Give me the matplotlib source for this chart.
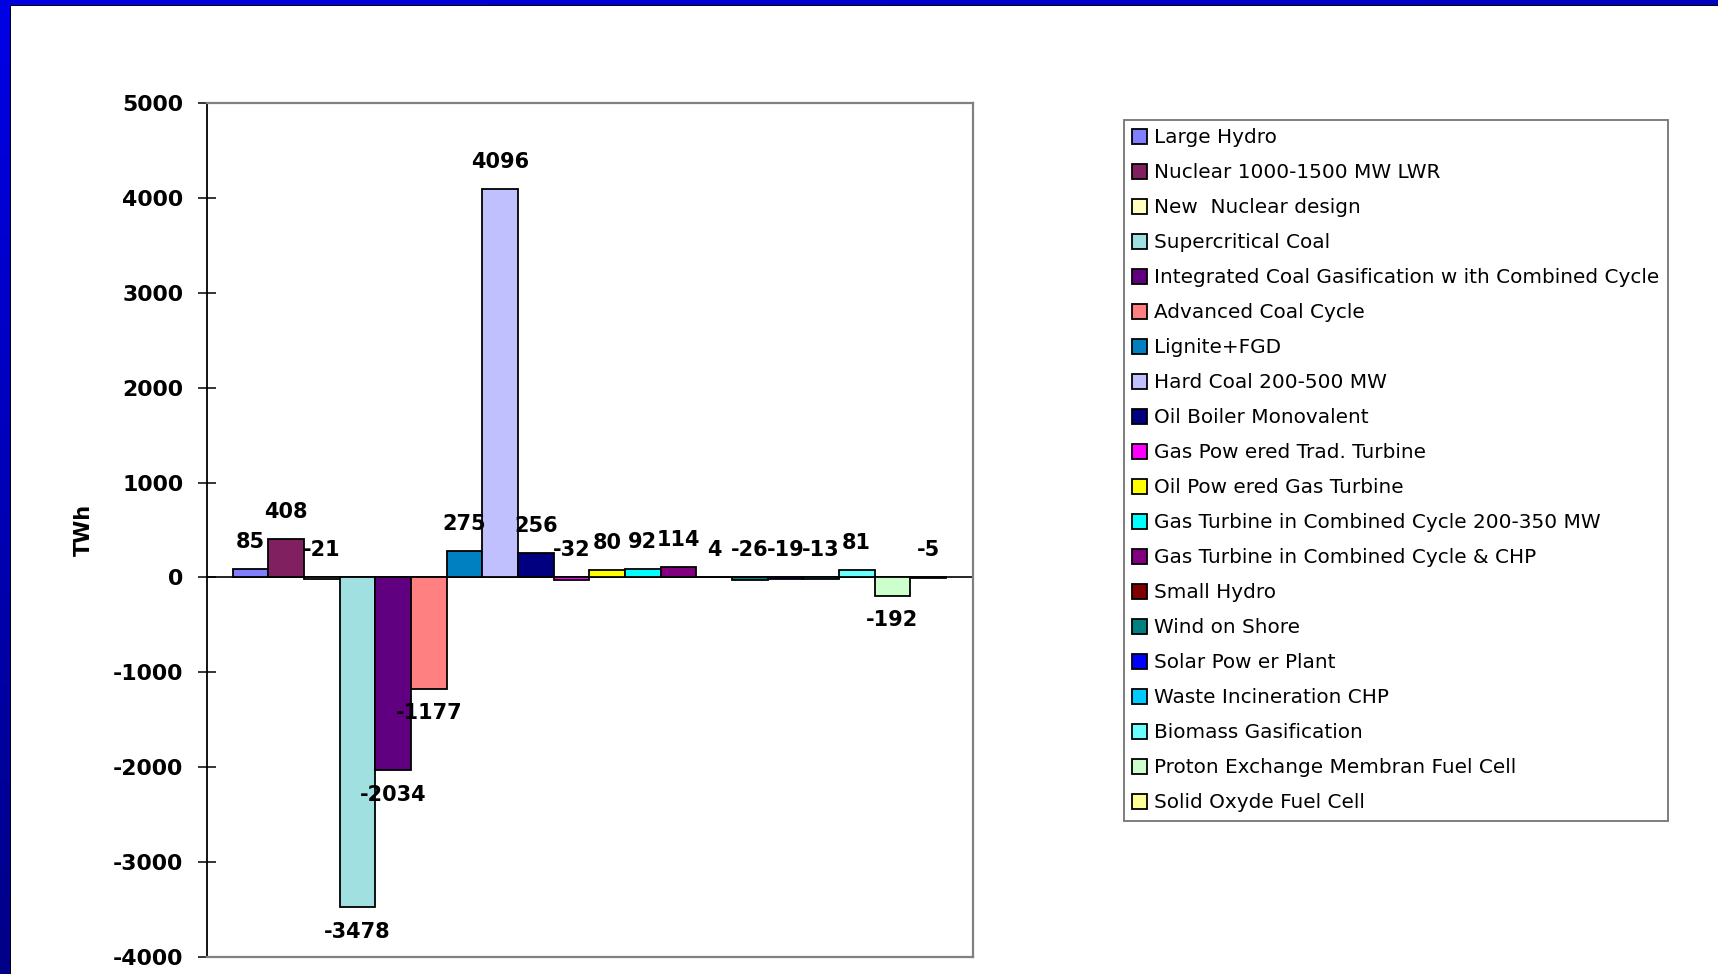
import numpy as np
import matplotlib
matplotlib.use("Agg")
import matplotlib.pyplot as plt
from matplotlib.patches import Rectangle

# Change in electricity generation by technology (TWh)
technologies = [
    "Large Hydro",
    "Nuclear 1000-1500 MW LWR",
    "New  Nuclear design",
    "Supercritical Coal",
    "Integrated Coal Gasification w ith Combined Cycle",
    "Advanced Coal Cycle",
    "Lignite+FGD",
    "Hard Coal 200-500 MW",
    "Oil Boiler Monovalent",
    "Gas Pow ered Trad. Turbine",
    "Oil Pow ered Gas Turbine",
    "Gas Turbine in Combined Cycle 200-350 MW",
    "Gas Turbine in Combined Cycle & CHP",
    "Small Hydro",
    "Wind on Shore",
    "Solar Pow er Plant",
    "Waste Incineration CHP",
    "Biomass Gasification",
    "Proton Exchange Membran Fuel Cell",
    "Solid Oxyde Fuel Cell",
]
twh = [85, 408, -21, -3478, -2034, -1177, 275, 4096, 256, -32,
       80, 92, 114, 4, -26, -19, -13, 81, -192, -5]
colors = [
    "#8080FF", "#802060", "#FFFFC0", "#A0E0E0", "#600080", "#FF8080",
    "#0080C0", "#C0C0FF", "#000080", "#FF00FF", "#FFFF00", "#00FFFF",
    "#800080", "#800000", "#008080", "#0000FF", "#00CCFF", "#69FFFF",
    "#CCFFCC", "#FFFF99",
]
y_ticks = [-4000, -3000, -2000, -1000, 0, 1000, 2000, 3000, 4000, 5000]

W, H = 1718, 974
fig = plt.figure(figsize=(W / 100, H / 100), dpi=100)
fig.patch.set_facecolor("white")

# slide frame: blue gradient strips on the left and top
left_strip = fig.add_axes([0, 0, 10 / W, 1])
grad = np.linspace(0, 1, 256).reshape(-1, 1)
top_c = np.array([0, 0, 230]) / 255
bot_c = np.array([0, 0, 135]) / 255
img = top_c[None, None, :] * (1 - grad[:, :, None]) + bot_c[None, None, :] * grad[:, :, None]
left_strip.imshow(img, aspect="auto", extent=[0, 1, 0, 1])
left_strip.set_axis_off()
top_strip = fig.add_axes([0, 1 - 5 / H, 1, 5 / H])
hgrad = np.linspace(0, 1, 256).reshape(1, -1)
c1 = np.array([0, 0, 225]) / 255
c2 = np.array([0, 0, 190]) / 255
himg = c1[None, None, :] * (1 - hgrad[:, :, None]) + c2[None, None, :] * hgrad[:, :, None]
top_strip.imshow(himg, aspect="auto", extent=[0, 1, 0, 1])
top_strip.set_axis_off()
fig.add_artist(Rectangle((10 / W, 0), 1.2 / W, 1 - 5 / H, transform=fig.transFigure,
                         color="#000010", lw=0))
fig.add_artist(Rectangle((10 / W, 1 - 6 / H), 1, 1.2 / H, transform=fig.transFigure,
                         color="#000010", lw=0))

# main chart
ax = fig.add_axes([207 / W, 1 - 957 / H, (973 - 207) / W, (957 - 103) / H])
x = np.arange(len(twh))
bars = ax.bar(x, twh, width=1.0, color=colors, edgecolor="black", linewidth=1.3, zorder=3)
ax.set_xlim(-0.5 - 0.72, len(twh) - 0.5 + 0.76)
ax.set_ylim(-4000, 5000)
ax.axhline(0, color="black", lw=1.2, zorder=2)

ax.set_yticks(y_ticks)
ax.set_yticklabels([str(t) for t in y_ticks], fontsize=15.8, fontweight="bold")
ax.tick_params(axis="y", direction="inout", length=13, width=1.1, pad=10.5, color="black")
ax.set_xticks([])
ax.spines["left"].set_color("black")
ax.spines["left"].set_linewidth(1.3)
for side in ("top", "right", "bottom"):
    ax.spines[side].set_color("#808080")
    ax.spines[side].set_linewidth(1.6)

ax.set_ylabel("TWh", fontsize=15, fontweight="bold", labelpad=14)

# value labels: small values sit above the baseline, large negatives below the bar
for xi, v in zip(x, twh):
    if v > -100:
        ax.annotate(str(v), xy=(xi, max(v, 0)), xytext=(0, 19.5), textcoords="offset points",
                    ha="center", va="center", fontsize=15, fontweight="bold", zorder=4)
    else:
        ax.annotate(str(v), xy=(xi, v), xytext=(0, -17.5), textcoords="offset points",
                    ha="center", va="center", fontsize=15, fontweight="bold", zorder=4)

leg = fig.legend(bars, technologies, loc="upper left",
                 bbox_to_anchor=(1124 / W, 1 - 120 / H), borderaxespad=0,
                 fontsize=14.4, frameon=True, fancybox=False, shadow=False,
                 handlelength=0.75, handleheight=0.75, handletextpad=0.33,
                 labelspacing=0.80, borderpad=0.42)
leg.get_frame().set_edgecolor("#505050")
leg.get_frame().set_linewidth(1.3)
for h in leg.legend_handles:
    h.set_edgecolor("black")
    h.set_linewidth(1.3)

fig.savefig("out.png", dpi=100)
